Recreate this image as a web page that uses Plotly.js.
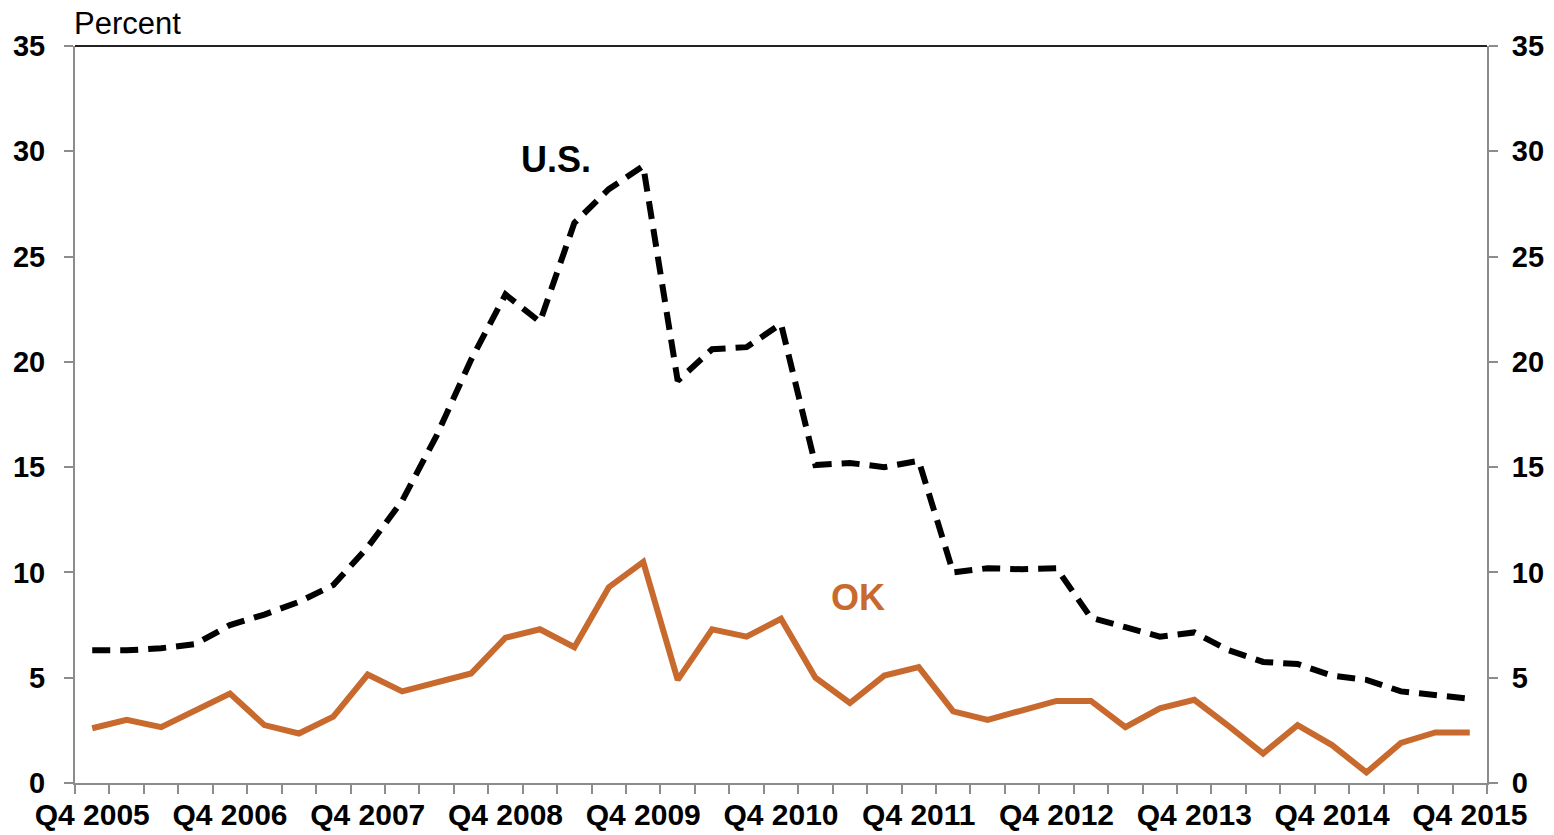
<!DOCTYPE html>
<html>
<head>
<meta charset="utf-8">
<script src="https://cdn.plot.ly/plotly-3.0.1.min.js"></script>
<style>
  html, body { margin: 0; padding: 0; background: #fff; }
  #chart { width: 1554px; height: 835px; }
</style>
</head>
<body>
<div id="chart"></div>
<script>
const quarters = [
  "Q4 2005","Q1 2006","Q2 2006","Q3 2006",
  "Q4 2006","Q1 2007","Q2 2007","Q3 2007",
  "Q4 2007","Q1 2008","Q2 2008","Q3 2008",
  "Q4 2008","Q1 2009","Q2 2009","Q3 2009",
  "Q4 2009","Q1 2010","Q2 2010","Q3 2010",
  "Q4 2010","Q1 2011","Q2 2011","Q3 2011",
  "Q4 2011","Q1 2012","Q2 2012","Q3 2012",
  "Q4 2012","Q1 2013","Q2 2013","Q3 2013",
  "Q4 2013","Q1 2014","Q2 2014","Q3 2014",
  "Q4 2014","Q1 2015","Q2 2015","Q3 2015",
  "Q4 2015"
];

const tickLabels = ["Q4 2005","Q4 2006","Q4 2007","Q4 2008","Q4 2009","Q4 2010",
                    "Q4 2011","Q4 2012","Q4 2013","Q4 2014","Q4 2015"];

const usValues = [
  6.3, 6.3, 6.4, 6.6,
  7.5, 8.0, 8.6, 9.4,
  11.2, 13.4, 16.5, 20.1,
  23.2, 21.9, 26.6, 28.2,
  29.3, 19.1, 20.6, 20.7,
  21.8, 15.1, 15.2, 15.0,
  15.3, 10.0, 10.2, 10.15,
  10.2, 7.85, 7.4, 6.95,
  7.15, 6.3, 5.75, 5.65,
  5.1, 4.9, 4.35, 4.2,
  4.0
];

const okValues = [
  2.6, 3.0, 2.65, 3.45,
  4.25, 2.75, 2.35, 3.15,
  5.15, 4.35, 4.75, 5.2,
  6.9, 7.3, 6.45, 9.3,
  10.5, 4.9, 7.3, 6.95,
  7.8, 5.0, 3.8, 5.1,
  5.5, 3.4, 3.0, 3.45,
  3.9, 3.9, 2.65, 3.55,
  3.95, 2.7, 1.4, 2.75,
  1.8, 0.5, 1.9, 2.4,
  2.4
];

const yTicks = [0, 5, 10, 15, 20, 25, 30, 35];

const FONT = "Liberation Sans, Arial, Helvetica, sans-serif";
const AXIS_GRAY = "#8c8c8c";
const OK_COLOR = "#C8692E";

const traces = [
  {
    x: quarters, y: usValues, type: "scatter", mode: "lines",
    line: { color: "#000000", width: 6, dash: "18px,10px" },
    xaxis: "x", yaxis: "y", hoverinfo: "skip"
  },
  {
    x: quarters, y: okValues, type: "scatter", mode: "lines",
    line: { color: OK_COLOR, width: 6 },
    xaxis: "x", yaxis: "y2", hoverinfo: "skip"
  }
];

const yCommon = {
  range: [0, 35], tickmode: "array", tickvals: yTicks,
  ticktext: yTicks.map(String),
  ticks: "outside", ticklen: 9, tickwidth: 2, tickcolor: AXIS_GRAY,
  showline: true, linecolor: AXIS_GRAY, linewidth: 2,
  showgrid: false, zeroline: false, fixedrange: true,
  tickfont: { family: FONT, size: 29, color: "#000", weight: "bold" }
};

const layout = {
  width: 1554, height: 835,
  margin: { l: 75, r: 67, t: 46, b: 52 },
  paper_bgcolor: "#ffffff", plot_bgcolor: "#ffffff",
  showlegend: false, hovermode: false,
  font: { family: FONT, color: "#000" },
  xaxis: {
    type: "category", range: [-0.5, quarters.length - 0.5],
    tickmode: "array", tickvals: quarters,
    ticktext: quarters.map(q => tickLabels.includes(q) ? q : ""),
    tickson: "boundaries",
    ticks: "outside", ticklen: 9, tickwidth: 2, tickcolor: AXIS_GRAY,
    showline: true, linecolor: AXIS_GRAY, linewidth: 2,
    showgrid: false, zeroline: false, fixedrange: true,
    tickangle: 0,
    tickfont: { family: FONT, size: 30, color: "#000", weight: "bold" },
    ticklabelstandoff: 4
  },
  yaxis: Object.assign({}, yCommon, { side: "left", anchor: "x", ticklabelstandoff: 13 }),
  yaxis2: Object.assign({}, yCommon, { side: "right", overlaying: "y", anchor: "x", ticklabelstandoff: 8 }),
  shapes: [
    { type: "line", xref: "paper", yref: "paper", x0: 0, x1: 1, y0: 1, y1: 1,
      line: { color: "#222222", width: 2 } }
  ],
  annotations: [
    { text: "Percent", xref: "paper", yref: "paper", x: -0.002, y: 1.031,
      xanchor: "left", yanchor: "middle", showarrow: false,
      font: { family: FONT, size: 31, color: "#000" } },
    { text: "U.S.", xref: "x", yref: "y", x: 13.47, y: 29.63,
      xanchor: "center", yanchor: "middle", showarrow: false,
      font: { family: FONT, size: 36, color: "#000", weight: "bold" } },
    { text: "OK", xref: "x", yref: "y", x: 22.23, y: 8.79,
      xanchor: "center", yanchor: "middle", showarrow: false,
      font: { family: FONT, size: 36, color: OK_COLOR, weight: "bold" } }
  ]
};

Plotly.newPlot("chart", traces, layout, { displayModeBar: false, staticPlot: true });
</script>
</body>
</html>
